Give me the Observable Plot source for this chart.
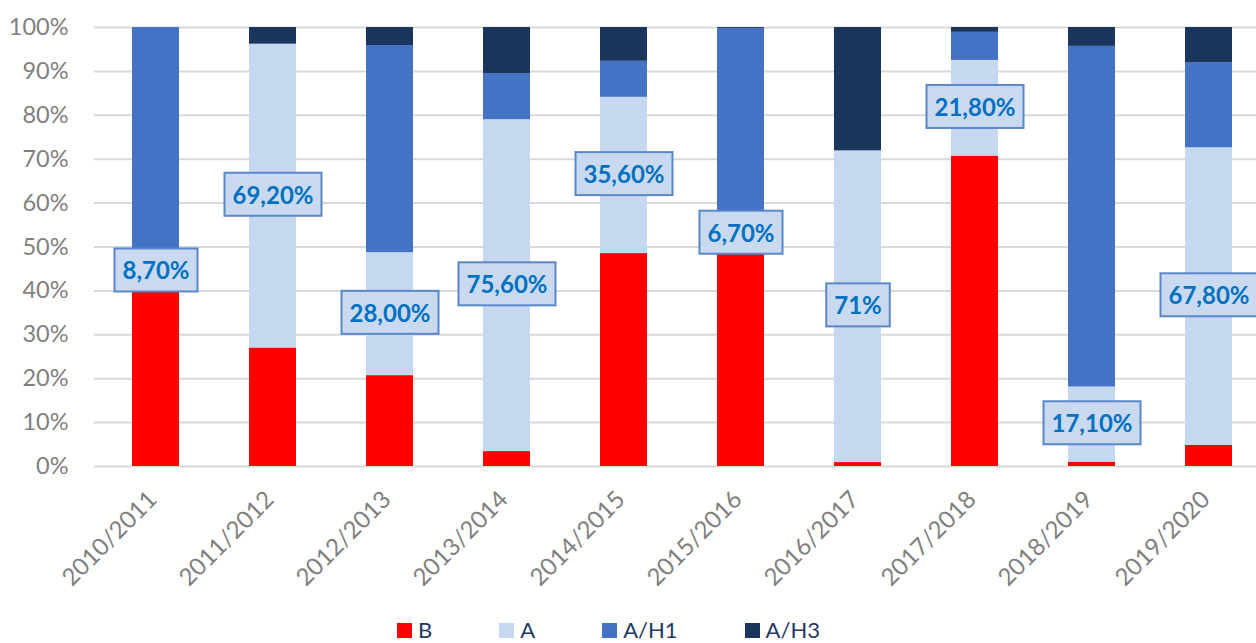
<!DOCTYPE html>
<html><head><meta charset="utf-8">
<script src="https://cdn.jsdelivr.net/npm/d3@7"></script>
<script src="https://cdn.jsdelivr.net/npm/@observablehq/plot@0.6"></script>
<style>
body{margin:0;background:#fff;font-family:Lato, sans-serif;position:relative;width:1256px;height:643px;overflow:hidden}
#legend{position:absolute;top:619px;left:397px;display:flex;align-items:center;font-size:22px;color:#1F3864;line-height:22px;white-space:nowrap}
.item{display:flex;align-items:center;margin-right:67px}
.sw{width:15px;height:15px;margin-right:6px}
</style></head><body>
<div id="chart"></div><div id="legend"></div>
<script>
const seasons = ["2010/2011","2011/2012","2012/2013","2013/2014","2014/2015","2015/2016","2016/2017","2017/2018","2018/2019","2019/2020"];
const types = ["B","A","A/H1","A/H3"];
const colors = ["#FF0000","#C6D8EF","#4472C4","#1B365D"];
const valB  = [40.0,27.0,20.7,3.4,48.5,49.6,0.9,70.7,1.0,4.8];
const valA  = [8.7,69.2,28.0,75.6,35.6,6.7,71.0,21.8,17.1,67.8];
const valH1 = [51.3,0,47.2,10.5,8.2,43.5,0,6.4,77.6,19.4];
const valH3 = [0,3.8,4.1,10.5,7.7,0.2,28.1,1.1,4.3,8.0];
const labelsA = ["8,70%","69,20%","28,00%","75,60%","35,60%","6,70%","71%","21,80%","17,10%","67,80%"];
const yTicks = [0,10,20,30,40,50,60,70,80,90,100];

const series = [valB, valA, valH1, valH3];
const data = [];
seasons.forEach((s, i) => types.forEach((t, k) => data.push({season: s, type: t, value: series[k][i]})));
const labelData = seasons.map((s, i) => ({season: s, y: valB[i] + valA[i] / 2, text: labelsA[i]}));

const H = 618;
const chart = Plot.plot({
  width: 1256,
  height: H,
  marginTop: 27,
  marginBottom: H - 466,
  marginLeft: 94,
  marginRight: 0,
  style: {fontFamily: "Lato, sans-serif", background: "#fff"},
  x: {type: "band", domain: seasons, range: [94, 1269], paddingInner: 0.6, paddingOuter: 0.3, align: 0.5, label: null},
  y: {domain: [0, 100], label: null},
  color: {domain: types, range: colors},
  marks: [
    Plot.gridY(yTicks, {stroke: "#D9D9D9", strokeOpacity: 1, strokeWidth: 2}),
    Plot.barY(data, {x: "season", y: "value", fill: "type", order: types}),
    Plot.axisY(yTicks, {tickFormat: d => d + "%", tickSize: 0, tickPadding: 26, fontSize: 23.5, fill: "#7F7F7F", label: null}),
    Plot.axisX({tickRotate: -45, tickSize: 0, tickPadding: 29, dx: -3, fontSize: 24, fill: "#7F7F7F", label: null}),
    Plot.text(labelData, {x: "season", y: "y", text: "text", fill: "#0070C0", fontSize: 24, fontWeight: "bold"})
  ]
});
document.getElementById("chart").appendChild(chart);

// boxes behind data labels
const ns = "http://www.w3.org/2000/svg";
chart.querySelectorAll('text').forEach(t => {
  const f = (t.getAttribute("fill") || t.parentNode.getAttribute("fill") || "").toLowerCase();
  if (f !== "#0070c0") return;
  const b = t.getBBox();
  const r = document.createElementNS(ns, "rect");
  const px = 8, py = 7;
  r.setAttribute("x", b.x - px);
  r.setAttribute("y", b.y - py);
  r.setAttribute("width", b.width + 2 * px);
  r.setAttribute("height", b.height + 2 * py);
  r.setAttribute("fill", "#C9DAF0");
  r.setAttribute("stroke", "#5A87C8");
  r.setAttribute("stroke-width", 2);
  if (t.getAttribute("transform")) r.setAttribute("transform", t.getAttribute("transform"));
  t.parentNode.insertBefore(r, t);
});

const legend = document.getElementById("legend");
types.forEach((t, k) => {
  const it = document.createElement("div");
  it.className = "item";
  it.innerHTML = `<div class="sw" style="background:${colors[k]}"></div><span>${t}</span>`;
  legend.appendChild(it);
});
</script>
</body></html>
